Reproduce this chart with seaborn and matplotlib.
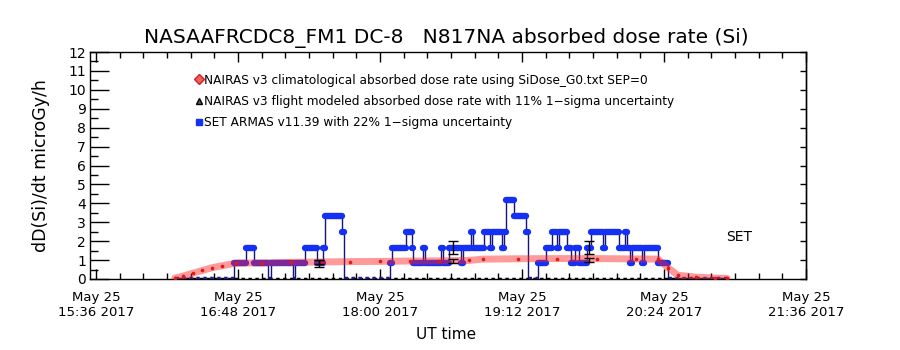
# Imports
import matplotlib
matplotlib.use("Agg")
import matplotlib.pyplot as plt
import matplotlib.dates as mdates
from matplotlib.lines import Line2D
from matplotlib import font_manager
import pandas as pd
import seaborn as sns

DAY = "2017-05-25 "

# SET ARMAS dose rate, change points (UT, microGy/h)
blue_time = ["16:16", "16:46", "16:52", "16:56", "17:03", "17:05", "17:16", "17:17",
             "17:22", "17:28", "17:31", "17:32", "17:41", "17:42", "18:05", "18:06",
             "18:13", "18:16", "18:17", "18:22", "18:23", "18:31", "18:32", "18:35",
             "18:41", "18:42", "18:46", "18:47", "18:53", "18:56", "18:57", "19:02",
             "19:03", "19:04", "19:08", "19:14", "19:15", "19:20", "19:24", "19:27",
             "19:30", "19:31", "19:35", "19:37", "19:39", "19:41", "19:45", "19:47",
             "19:53", "19:54", "20:01", "20:04", "20:05", "20:07", "20:08", "20:13",
             "20:14", "20:21", "20:26", "20:56"]
blue_val = [0, 0.83, 1.66, 0.83, 0, 0.83, 0, 0.83,
            1.66, 0.83, 1.66, 3.32, 2.49, 0, 0.83, 1.66,
            2.49, 1.66, 0.83, 1.66, 0.83, 1.66, 0.83, 1.66,
            0.83, 1.66, 2.49, 1.66, 2.49, 1.66, 2.49, 1.66,
            2.49, 4.15, 3.32, 2.49, 0, 0.83, 1.66, 2.49,
            1.66, 2.49, 1.66, 0.83, 1.66, 0.83, 1.66, 2.49,
            1.66, 2.49, 1.66, 2.49, 1.66, 0.83, 1.66, 0.83,
            1.66, 0.83, 0, 0]

# NAIRAS climatological dose rate
red_time = ["16:16", "16:20", "16:25", "16:30", "16:35", "16:40", "16:47", "17:00",
            "17:15", "17:30", "17:45", "18:00", "18:15", "18:30", "18:45", "18:52",
            "19:10", "19:30", "19:50", "20:10", "20:21", "20:26", "20:31", "20:40",
            "20:50", "20:56"]
red_val = [0.05, 0.15, 0.3, 0.45, 0.6, 0.7, 0.84, 0.85,
           0.88, 0.9, 0.92, 0.93, 0.95, 0.96, 0.98, 1.05,
           1.07, 1.08, 1.08, 1.06, 1.05, 0.6, 0.2, 0.1,
           0.05, 0.03]

# flight modeled baseline and error bars
black_time = ["16:16", "20:56"]
black_val = [0, 0]
err_time = ["17:29", "18:37", "19:46", "17:29", "18:37", "19:46"]
err_val = [0.83, 1.66, 1.66, 0.9, 0.96, 1.0]
err_sig = [0.18, 0.36, 0.36, 0.1, 0.11, 0.11]

tick_time = ["15:36", "16:48", "18:00", "19:12", "20:24", "21:36"]


def pick_font():
    for name in ["Liberation Sans Narrow", "DejaVu Sans"]:
        try:
            font_manager.findfont(name, fallback_to_default=False)
            return name
        except ValueError:
            continue
    return "DejaVu Sans"


def to_t(lst):
    return pd.to_datetime([DAY + s for s in lst])


def main():
    sns.set_style("ticks")
    font = pick_font()
    plt.rcParams["font.family"] = [font, "DejaVu Sans"]
    plt.rcParams["text.color"] = "black"
    plt.rcParams["axes.labelcolor"] = "black"
    k = 1.33 if font == "Liberation Sans Narrow" else 1.0

    fig = plt.figure(figsize=(9, 3.5), dpi=100)
    ax = fig.add_axes([90 / 900, 71 / 350, 716 / 900, 227 / 350])

    bt = to_t(blue_time)
    bnum = mdates.date2num(bt)
    # thin connecting line
    sns.lineplot(x=bt, y=blue_val, drawstyle="steps-post", color="#14147a",
                 lw=1, ax=ax, zorder=2)
    # thick marker runs (level zero stays thin)
    runs = [(v, a, b) for v, a, b in zip(blue_val[:-1], bnum[:-1], bnum[1:]) if v > 0]
    ax.hlines([r[0] for r in runs], [r[1] for r in runs], [r[2] for r in runs],
              colors="#1530f5", lw=4.6, capstyle="round", zorder=3)
    zero = [(a, b) for v, a, b in zip(blue_val[:-1], bnum[:-1], bnum[1:]) if v == 0]
    ax.hlines([0.04] * len(zero), [z[0] for z in zero], [z[1] for z in zero],
              colors="#1a1a90", lw=2.5, linestyles=(0, (1, 1)), zorder=3)

    sns.lineplot(x=to_t(red_time), y=red_val, color="#ff2020", alpha=0.45, lw=5,
                 ax=ax, zorder=4)
    sns.scatterplot(x=to_t(red_time), y=red_val, color="#e01818", s=7,
                    linewidth=0, ax=ax, zorder=5)

    sns.lineplot(x=to_t(black_time), y=black_val, color="black", lw=2.5,
                 linestyle=(1, (1, 1)), ax=ax, zorder=2)
    ax.errorbar(to_t(err_time), err_val, yerr=err_sig, fmt="none", ecolor="black",
                elinewidth=1, capsize=3.5, capthick=1, zorder=6)

    ax.text(pd.Timestamp(DAY + "21:02"), 2.2, "SET", ha="center", va="center",
            fontsize=10 * k, color="black")

    ax.set_xlim(pd.Timestamp(DAY + "15:33"), pd.Timestamp(DAY + "21:36"))
    ax.set_ylim(0, 12)
    ax.set_xticks(to_t(tick_time))
    ax.xaxis.set_major_formatter(mdates.DateFormatter("%b %d\n%H:%M %Y"))
    ax.xaxis.set_minor_locator(mdates.MinuteLocator(byminute=range(0, 60, 12)))
    ax.set_yticks(range(13))
    ax.set_yticks([i + 0.5 for i in range(12)], minor=True)

    ax.tick_params(axis="x", which="major", direction="in", length=7, width=1,
                   top=True, pad=9, labelsize=9.5 * k, colors="black")
    ax.tick_params(axis="x", which="minor", direction="in", length=4, width=1,
                   top=True, colors="black")
    ax.tick_params(axis="y", which="major", direction="in", length=14, width=1,
                   pad=3, labelsize=10 * k, colors="black")
    ax.tick_params(axis="y", which="minor", direction="in", length=6, width=1,
                   colors="black")
    right = ax.secondary_yaxis("right")
    right.set_yticks(range(13))
    right.tick_params(direction="in", length=4, width=1, labelright=False,
                      colors="black")
    right.spines["right"].set_linewidth(1)

    for s in ax.spines.values():
        s.set_linewidth(1)
        s.set_color("black")

    ax.set_xlabel("UT time", fontsize=11 * k)
    ax.xaxis.set_label_coords(0.497, -0.211)
    ax.set_ylabel("dD(Si)/dt microGy/h", fontsize=12.5 * k)
    ax.yaxis.set_label_coords(-0.056, 0.5)

    fig.text(0.496, 0.89, "NASAAFRCDC8_FM1 DC-8   N817NA absorbed dose rate (Si)",
             ha="center", va="center", fontsize=14.5 * k, color="black")

    handles = [
        Line2D([], [], ls="none", marker="D", ms=5, mfc="#f06060", mec="#d02020"),
        Line2D([], [], ls="none", marker="^", ms=5, mfc="#606060", mec="black"),
        Line2D([], [], ls="none", marker="s", ms=5, mfc="#1530f5", mec="#1530f5"),
    ]
    labels = [
        "NAIRAS v3 climatological absorbed dose rate using SiDose_G0.txt SEP=0",
        "NAIRAS v3 flight modeled absorbed dose rate with 11% 1\u2212sigma uncertainty",
        "SET ARMAS v11.39 with 22% 1\u2212sigma uncertainty",
    ]
    ax.legend(handles, labels, loc="upper left", bbox_to_anchor=(0.147, 0.905),
              frameon=False, borderpad=0, handlelength=0.6, handletextpad=0.15,
              labelspacing=0.68, fontsize=8.7 * k, borderaxespad=0,
              labelcolor="black")

    fig.savefig("out.png", dpi=100)
    plt.close(fig)


if __name__ == "__main__":
    main()
